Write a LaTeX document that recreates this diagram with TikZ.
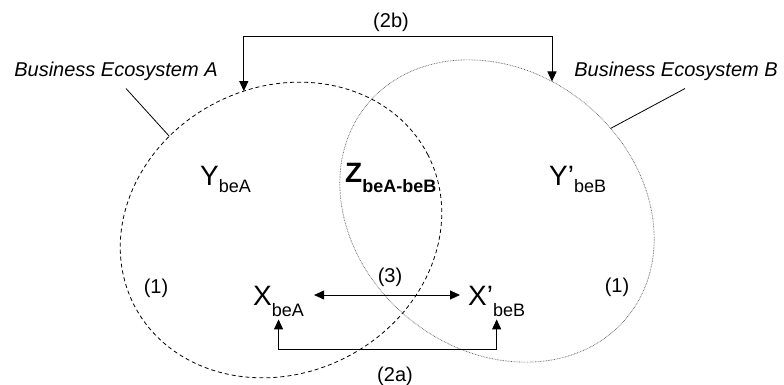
\documentclass[tikz,border=0pt]{standalone}
\usepackage{fontspec}
\setmainfont{Liberation Sans}
\usetikzlibrary{arrows.meta,shapes.geometric,calc}
\tikzset{
  ecobox/.style={draw,ellipse,inner sep=0pt,outer sep=0pt},
  ecoA/.style={ecobox,draw=black,line width=0.8pt,dash pattern=on 4pt off 3pt},
  ecoB/.style={ecobox,draw=black!65,line width=0.7pt,dash pattern=on 0.7pt off 0.9pt},
  ecovar/.style={anchor=base west,inner sep=0pt},
  ecolab/.style={font=\fontsize{20}{22}\selectfont,inner sep=0pt},
  econame/.style={font=\fontsize{20}{22}\selectfont\itshape,inner sep=0pt},
  ecolead/.style={line width=0.8pt},
  ecolink/.style={line width=0.9pt,
      {Triangle[length=10pt,width=9pt]}-{Triangle[length=10pt,width=9pt]}},
}
\newcommand{\varsub}[3][10pt]{%
  {\fontsize{28}{30}\selectfont #2}\raisebox{-#1}{\fontsize{18}{20}\selectfont #3}}

\begin{document}
\begin{tikzpicture}[x=1pt,y=1pt]
  \useasboundingbox (0,0) rectangle (784,-385);

  % the two ecosystems
  \node[ecoA,minimum width=330pt,minimum height=286pt,rotate=27] (beA) at (281,-230) {};
  \node[ecoB,minimum width=336pt,minimum height=278pt,rotate=-39] (beB) at (497,-211) {};

  \node[econame] (nameA) at (116,-71) {Business Ecosystem A};
  \node[econame] (nameB) at (676,-71) {Business Ecosystem B};
  \draw[ecolead] ([shift={(10,-8)}]nameA.south) -- (beA.113);
  \draw[ecolead] ([shift={(9,-8)}]nameB.south) -- (beB.75);

  % actors
  \node[ecovar] (ya) at (200,-185) {\varsub[7pt]{Y}{beA}};
  \node[ecovar] (zab) at (345,-182) {\varsub{\bfseries Z}{\bfseries beA-beB}};
  \node[ecovar] (yb) at (549,-185) {\varsub[7pt]{Y’}{beB}};
  \node[ecovar] (xa) at (253,-305) {\varsub[11pt]{X}{beA}};
  \node[ecovar] (xb) at (468,-305) {\varsub[11pt]{X’}{beB}};

  % relations
  \coordinate (top2b) at (0,-36);
  \coordinate (low2a) at (0,-349);
  \draw[ecolink] ([shift={(10,10)}]xa.base east) -- ([shift={(-8,10)}]xb.base west);
  \draw[ecolink] ([yshift=-3pt]xa.south) -- (xa.south |- low2a)
    -- (xb.south |- low2a) -- ([yshift=-3pt]xb.south);
  \draw[ecolink] (beA.78) -- (beA.78 |- top2b) -- (beB.106 |- top2b) -- (beB.106);

  \node[ecolab] (l2b) at (391,-22) {(2b)};
  \node[ecolab] (l2a) at (395,-376) {(2a)};
  \node[ecolab] (l3) at (390,-277) {(3)};
  \node[ecolab] (l1a) at (156,-288) {(1)};
  \node[ecolab] (l1b) at (617,-287) {(1)};
\end{tikzpicture}
\end{document}
